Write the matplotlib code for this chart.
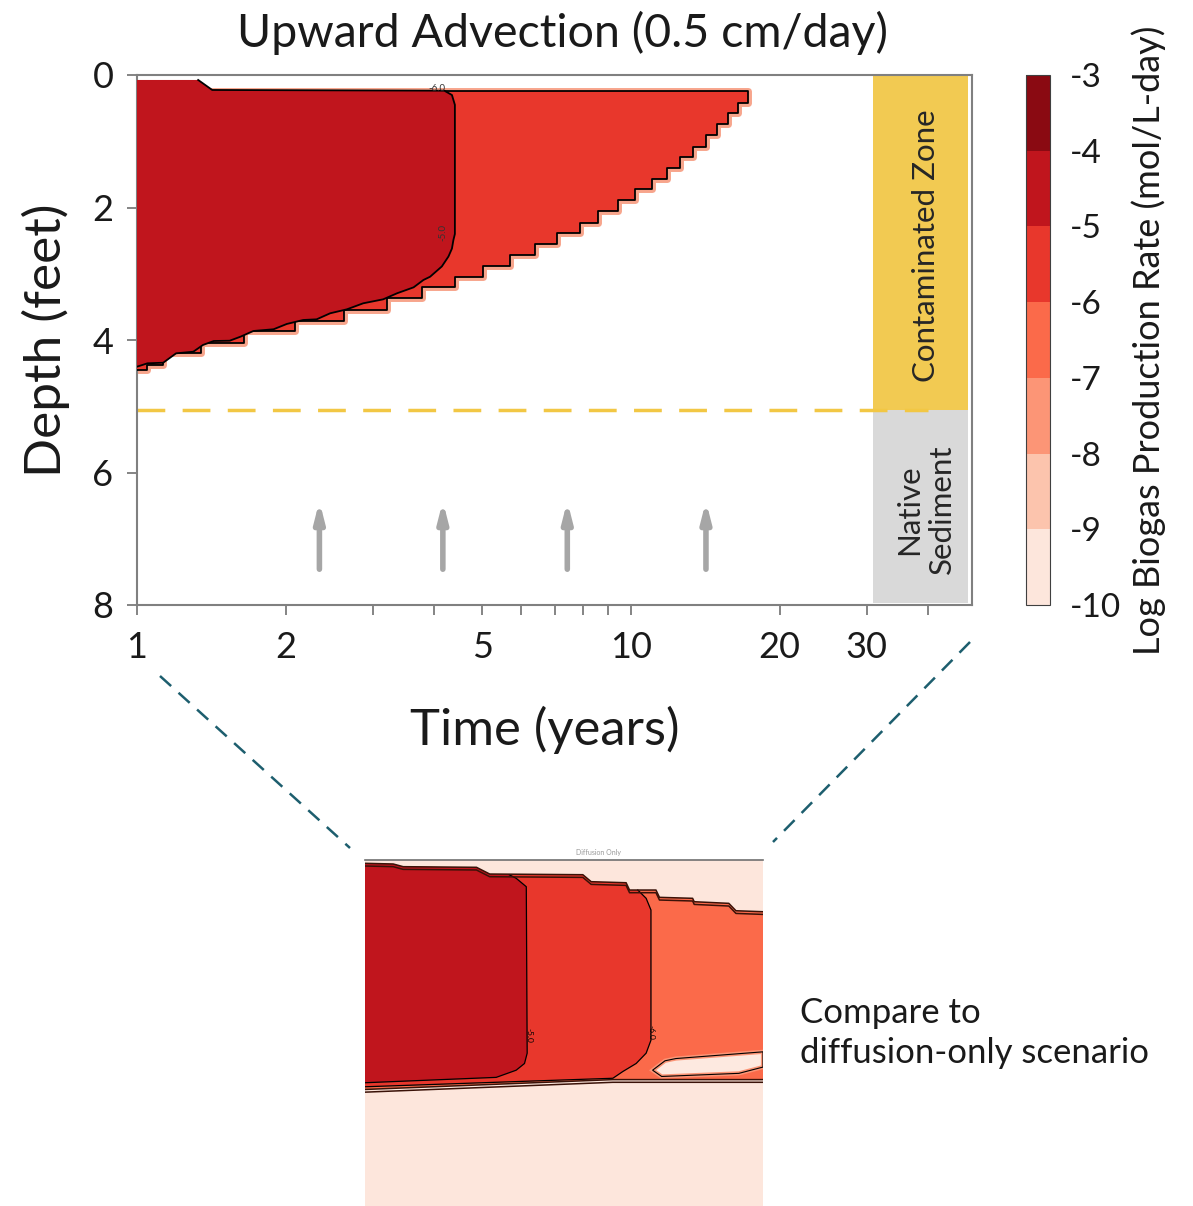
import numpy as np
import matplotlib
matplotlib.use('Agg')
import matplotlib.pyplot as plt
from matplotlib.colors import ListedColormap, BoundaryNorm
from matplotlib.cm import ScalarMappable
from matplotlib.lines import Line2D
from matplotlib.ticker import FixedLocator, NullFormatter, FixedFormatter

plt.rcParams['font.family'] = ['Lato', 'DejaVu Sans']
plt.rcParams['axes.unicode_minus'] = False

# colour levels (log biogas production rate)
levels = [-10, -9, -8, -7, -6, -5, -4, -3]
level_colors = ['#fde6dc', '#fcc4ad', '#fc9576', '#fb6a4a', '#e8372c', '#c0151d', '#8a0a12']

# ---- upward advection panel ----
# -5 contour (dark zone), time in years, depth in feet
dark_t = [1.0, 1.33, 1.42, 4.19, 4.34, 4.40, 4.40, 4.37, 4.34, 4.27, 4.14, 3.92, 3.80,
          3.63, 3.36, 3.15, 2.87, 2.66, 2.46, 2.31, 2.17, 2.01, 1.89, 1.72, 1.62, 1.54,
          1.43, 1.36, 1.30, 1.20, 1.13, 1.05, 1.0]
dark_d = [0.075, 0.075, 0.226, 0.237, 0.302, 0.45, 2.40, 2.49, 2.62, 2.74, 2.89, 3.045,
          3.094, 3.205, 3.295, 3.386, 3.446, 3.537, 3.597, 3.688, 3.698, 3.758, 3.838,
          3.864, 3.950, 4.011, 4.015, 4.075, 4.177, 4.201, 4.343, 4.352, 4.403]

# -6 contour: staircase front (ledge depth and the time at its right end)
front_top = 0.236
front_depth = [0.418, 0.569, 0.740, 0.906, 1.082, 1.242, 1.408, 1.574, 1.725, 1.887,
               2.048, 2.229, 2.380, 2.551, 2.717, 2.883, 3.045, 3.205, 3.37, 3.54,
               3.71, 3.86, 4.04, 4.20, 4.37, 4.46]
front_time = [17.23, 16.49, 15.74, 14.95, 14.19, 13.37, 12.57, 11.81, 11.01, 10.19,
              9.43, 8.59, 7.88, 7.07, 6.39, 5.69, 5.02, 4.40, 3.77, 3.20,
              2.62, 2.09, 1.65, 1.35, 1.13, 1.05]

zone_bottom = 5.06          # contaminated zone / native sediment boundary
zone_t = [30.9, 48.1]
arrow_t = [2.34, 4.16, 7.43, 14.18]
arrow_d = [7.46, 6.43]

# ---- diffusion-only inset ----
ins_top_t = [1.0, 1.223, 1.313, 2.215, 2.434, 4.73, 5.02, 6.44, 6.60, 7.97, 8.17,
             10.35, 10.47, 13.4, 14.1, 17.1]
ins_top_d = [0.074, 0.089, 0.149, 0.163, 0.313, 0.328, 0.484, 0.507, 0.670, 0.670,
             0.833, 0.855, 0.931, 0.967, 1.132, 1.154]
ins_bot_t = [17.1, 5.86, 1.0]
ins_bot_d = [4.90, 4.90, 5.12]
ins_dark_t = [2.80, 2.94, 3.16, 3.18, 3.12, 2.94, 2.55, 1.0]
ins_dark_d = [0.33, 0.408, 0.596, 4.31, 4.54, 4.69, 4.85, 4.97]
ins_mid_t = [7.0, 7.43, 7.69, 7.69, 7.43, 6.92, 6.29, 5.86, 1.0]
ins_mid_d = [0.670, 0.855, 1.116, 4.02, 4.31, 4.54, 4.72, 4.87, 5.06]
ins_hole_t = [7.78, 8.5, 9.19, 17.1, 17.1, 14.4, 8.3]
ins_hole_d = [4.69, 4.48, 4.43, 4.28, 4.62, 4.76, 4.83]


def stair(times, depths, top):
    t = [1.0, times[0]]
    d = [top, top]
    for k in range(len(times)):
        t_next = times[k + 1] if k + 1 < len(times) else 1.0
        t += [times[k], t_next]
        d += [depths[k], depths[k]]
    return t, d


fig = plt.figure(figsize=(11.93, 12.06), dpi=100)
ax = fig.add_axes([137/1193, 1 - 605/1206, 835/1193, 530/1206])

# light (-6..-5) zone
st, sd = stair(front_time, front_depth, front_top)
ax.plot(st, sd, color='#f7a58c', lw=5, zorder=2, solid_joinstyle='round')
ax.fill(st, sd, color=level_colors[4], lw=0, zorder=3)
ax.plot(st, sd, color='k', lw=1.3, zorder=4)

# dark (-5..-4) zone
ax.fill(dark_t, dark_d, color=level_colors[5], lw=0, zorder=5)
ax.plot(dark_t[1:], dark_d[1:], color='k', lw=1.3, zorder=6)
ax.text(4.05, 0.20, '-6.0', fontsize=7, color='#333333', ha='center', va='center', zorder=7)
ax.text(4.16, 2.37, '-5.0', fontsize=7, color='#333333', ha='center', va='center',
        rotation=90, zorder=7)

# zones on the right
ax.fill_between(zone_t, 0, zone_bottom, color='#f2ca52', lw=0, zorder=1)
ax.fill_between(zone_t, zone_bottom, 7.97, color='#d9d9d9', lw=0, zorder=1)
ax.plot([1.0, 40.0], [zone_bottom, zone_bottom], color='#f2c744', lw=2.5,
        dashes=(8, 5), zorder=2)
ax.text(39.5, 2.58, 'Contaminated Zone', rotation=90, ha='center', va='center',
        fontsize=22.5, color='#262626')
ax.text(39.5, 6.56, 'Native\nSediment', rotation=90, ha='center', va='center',
        multialignment='center', fontsize=22.5, color='#262626', linespacing=1.2)

for t in arrow_t:
    ax.annotate('', xy=(t, arrow_d[1]), xytext=(t, arrow_d[0]),
                arrowprops=dict(arrowstyle='-|>,head_width=0.28,head_length=1.1',
                                lw=4, color='#a6a6a6', shrinkA=0, shrinkB=0))

ax.set_xscale('log')
ax.set_xlim(1, 49)
ax.set_ylim(8, 0)
ax.xaxis.set_major_locator(FixedLocator([1, 2, 5, 10, 20, 30]))
ax.xaxis.set_major_formatter(FixedFormatter(['1', '2', '5', '10', '20', '30']))
ax.xaxis.set_minor_locator(FixedLocator([3, 4, 6, 7, 8, 9, 40]))
ax.xaxis.set_minor_formatter(NullFormatter())
ax.set_yticks([0, 2, 4, 6, 8])
ax.tick_params(axis='both', which='both', length=7, width=1.2, color='#707070',
               labelsize=26, labelcolor='#1a1a1a')
ax.tick_params(axis='x', pad=12)
ax.tick_params(axis='y', pad=10)
for s in ax.spines.values():
    s.set_color('#808080')
    s.set_linewidth(1.5)

ax.set_title('Upward Advection (0.5 cm/day)', fontsize=33.5, color='#1a1a1a', pad=20,
             x=0.51)
ax.set_xlabel('Time (years)', fontsize=36.5, color='#1a1a1a', labelpad=30)
ax.xaxis.set_label_coords(0.488, -0.19)
ax.set_ylabel('Depth (feet)', fontsize=37, color='#1a1a1a', labelpad=16)

# colour bar
cax = fig.add_axes([1026/1193, 1 - 605/1206, 24/1193, 530/1206])
cmap = ListedColormap(level_colors)
norm = BoundaryNorm(levels, cmap.N)
cb = fig.colorbar(ScalarMappable(norm=norm, cmap=cmap), cax=cax, ticks=levels)
cb.ax.set_yticklabels([str(v) for v in levels])
cb.ax.tick_params(length=0, labelsize=24, pad=14, labelcolor='#1a1a1a')
cb.outline.set_edgecolor('#404040')
cb.outline.set_linewidth(0.8)
cb.set_label('Log Biogas Production Rate (mol/L-day)', fontsize=26, color='#1a1a1a',
             labelpad=8)

# diffusion-only inset
ins = fig.add_axes([365/1193, 1 - 1206/1206, 398/1193, 346/1206])
ins.set_facecolor(level_colors[0])
ins.set_xscale('log')
ins.set_xlim(1, 17.1)
ins.set_ylim(7.72, 0)
ins.set_xticks([])
ins.set_yticks([])
ins.minorticks_off()
for k, s in ins.spines.items():
    s.set_visible(k == 'top')
ins.spines['top'].set_color('#707070')
ins.spines['top'].set_linewidth(1.2)

band_t = ins_top_t + ins_bot_t
band_d = ins_top_d + ins_bot_d
ins.fill(band_t, band_d, color=level_colors[3], lw=0, zorder=2)
ins.fill(ins_hole_t, ins_hole_d, color='#fde9e0', ec='#fc9576', lw=3, zorder=3)
ins.fill(ins_hole_t, ins_hole_d, color='none', ec='k', lw=0.8, zorder=3)
mid_t = [t for t in ins_top_t if t < ins_mid_t[0]] + ins_mid_t
mid_d = [d for t, d in zip(ins_top_t, ins_top_d) if t < ins_mid_t[0]] + ins_mid_d
ins.fill(mid_t, mid_d, color=level_colors[4], lw=0, zorder=4)
ins.plot(ins_mid_t, ins_mid_d, color='k', lw=0.9, zorder=5)
dk_t = [t for t in ins_top_t if t < ins_dark_t[0]] + ins_dark_t
dk_d = [d for t, d in zip(ins_top_t, ins_top_d) if t < ins_dark_t[0]] + ins_dark_d
ins.fill(dk_t, dk_d, color=level_colors[5], lw=0, zorder=6)
ins.plot(ins_dark_t, ins_dark_d, color='k', lw=0.9, zorder=7)
for off in [0.0, 0.06]:
    ins.plot(ins_top_t, [d + off for d in ins_top_d], color='#3a1208', lw=1.1, zorder=8)
    ins.plot(ins_bot_t, [d + off for d in ins_bot_d], color='#3a1208', lw=1.1, zorder=8)
ins.text(3.21, 3.91, '-5.0', fontsize=6, rotation=270, ha='center', va='center', zorder=9)
ins.text(7.69, 3.85, '-6.0', fontsize=6, rotation=270, ha='center', va='center', zorder=9)
fig.text(598/1193, 1 - 853/1206, 'Diffusion Only', fontsize=5, color='#999999',
         ha='center', va='center')

# dashed call-out lines and note
for (x0, y0, x1, y1) in [(160, 676, 350, 848), (970, 642, 773, 842)]:
    fig.add_artist(Line2D([x0/1193, x1/1193], [1 - y0/1206, 1 - y1/1206],
                          color='#1d5e6e', lw=1.8, dashes=(6, 4),
                          transform=fig.transFigure))
fig.text(800/1193, 1 - 1033/1206, 'Compare to\ndiffusion-only scenario', fontsize=25,
         color='#1a1a1a', ha='left', va='center', linespacing=1.3)

fig.savefig('out.png', dpi=100)
